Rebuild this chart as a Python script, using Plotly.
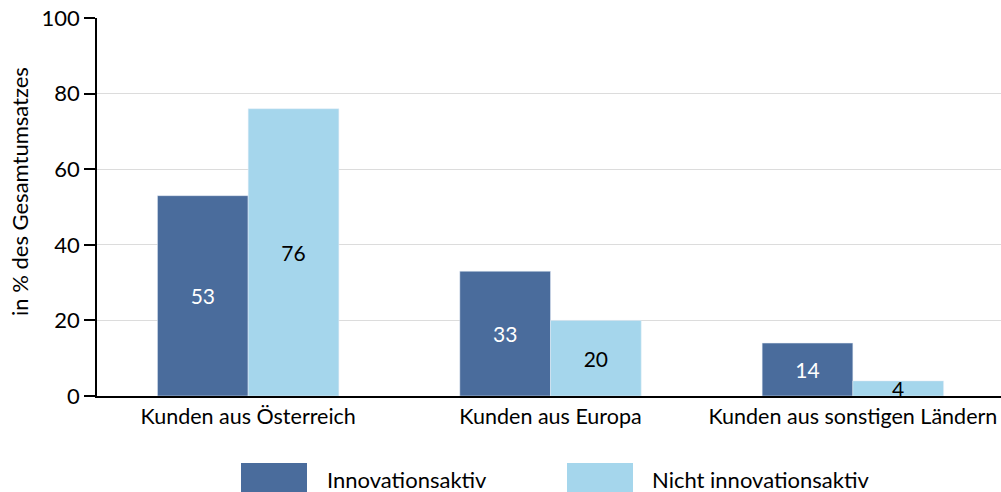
import plotly.graph_objects as go

categories = ["Kunden aus Österreich", "Kunden aus Europa", "Kunden aus sonstigen Ländern"]
series_names = ["Innovationsaktiv", "Nicht innovationsaktiv"]
innovativ = [53, 33, 14]
nicht_innovativ = [76, 20, 4]
y_ticks = [0, 20, 40, 60, 80, 100]

dark = "#4A6C9C"
light = "#A5D6EC"
font_family = "Lato, 'Open Sans', sans-serif"

fig = go.Figure()
fig.add_trace(go.Bar(
    x=categories, y=innovativ, name=series_names[0], marker_color=dark,
    text=[str(v) for v in innovativ], textposition="inside", insidetextanchor="middle",
    textangle=0,
    textfont=dict(color="white", size=21, family=font_family), constraintext="none",
))
fig.add_trace(go.Bar(
    x=categories, y=nicht_innovativ, name=series_names[1], marker_color=light,
    text=[str(v) for v in nicht_innovativ], textposition="inside", insidetextanchor="middle",
    textangle=0,
    textfont=dict(color="black", size=21, family=font_family), constraintext="none",
))

W, H = 1001, 492
ml, mr, mt, mb = 97, 0, 18, 96
pw = W - ml - mr
ph = H - mt - mb

def px_x(x):
    return (x - ml) / pw

def px_y(y):
    return (H - mb - y) / ph

shapes = []
annotations = []
legend_items = [(241, 307, 325, series_names[0], dark), (567, 633, 650, series_names[1], light)]
for x0, x1, xt, label, col in legend_items:
    shapes.append(dict(type="rect", xref="paper", yref="paper",
                       x0=px_x(x0), x1=px_x(x1), y0=px_y(463), y1=px_y(494),
                       fillcolor=col, line=dict(width=0)))
    annotations.append(dict(xref="paper", yref="paper", x=px_x(xt), y=px_y(479),
                            text=label, showarrow=False, xanchor="left", yanchor="middle",
                            font=dict(size=22, color="black", family=font_family)))

annotations.append(dict(xref="paper", yref="paper", x=px_x(19), y=px_y(192),
                        text="in % des Gesamtumsatzes", showarrow=False, textangle=-90,
                        xanchor="center", yanchor="middle",
                        font=dict(size=22, color="black", family=font_family)))

fig.update_layout(
    width=W, height=H,
    margin=dict(l=ml, r=mr, t=mt, b=mb, autoexpand=False),
    paper_bgcolor="white", plot_bgcolor="white",
    barmode="group", bargap=0.4, bargroupgap=0,
    showlegend=False,
    uniformtext=dict(minsize=21, mode="show"),
    font=dict(family=font_family, size=22, color="black"),
    xaxis=dict(range=[-0.5, 2.49], showline=True, linecolor="black", linewidth=2,
               ticks="", tickfont=dict(size=21.5), showgrid=False, automargin=False),
    yaxis=dict(range=[0, 100], tickvals=y_ticks, showline=True, linecolor="black", linewidth=1.5,
               ticks="outside", ticklen=11, tickcolor="black", tickwidth=1.5,
               gridcolor="#DCDCDC", gridwidth=1, tickfont=dict(size=22),
               ticklabeloverflow="allow", zeroline=False, automargin=False),
    shapes=shapes, annotations=annotations,
)

fig.write_html(
    "out.html",
    config={"displayModeBar": False},
    post_script="document.body.style.margin='0';document.body.style.overflow='hidden';",
)
